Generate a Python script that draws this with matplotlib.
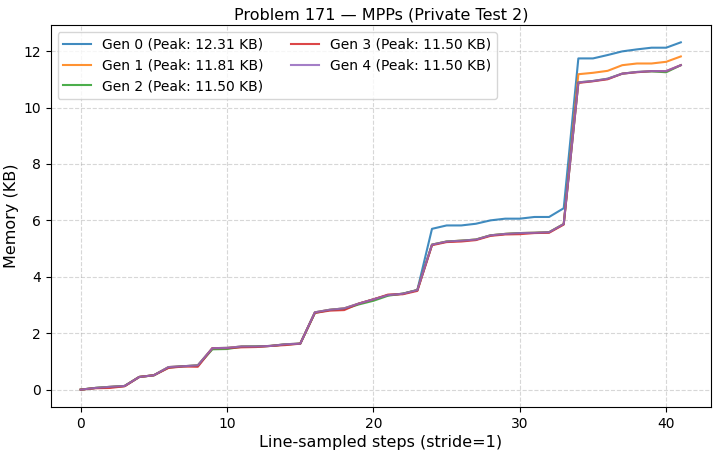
import matplotlib
matplotlib.use("Agg")
import matplotlib.pyplot as plt

steps = list(range(42))

gen0 = [0.00, 0.06, 0.10, 0.13, 0.45, 0.51, 0.80, 0.83, 0.86, 1.47, 1.48, 1.53, 1.53, 1.55, 1.61, 1.63,
        2.74, 2.83, 2.88, 3.05, 3.20, 3.35, 3.40, 3.53,
        5.70, 5.82, 5.82, 5.88, 6.00, 6.06, 6.06, 6.12, 6.12, 6.43,
        11.74, 11.74, 11.86, 11.99, 12.06, 12.12, 12.12, 12.31]
gen1 = [0.00, 0.06, 0.10, 0.13, 0.45, 0.51, 0.80, 0.83, 0.86, 1.47, 1.48, 1.53, 1.53, 1.55, 1.61, 1.63,
        2.74, 2.83, 2.88, 3.05, 3.20, 3.35, 3.40, 3.53,
        5.14, 5.25, 5.28, 5.32, 5.47, 5.52, 5.55, 5.56, 5.58, 5.87,
        11.18, 11.23, 11.30, 11.50, 11.56, 11.56, 11.62, 11.81]
gen2 = [0.00, 0.06, 0.09, 0.13, 0.45, 0.51, 0.78, 0.83, 0.85, 1.43, 1.44, 1.52, 1.53, 1.55, 1.60, 1.63,
        2.72, 2.82, 2.86, 3.02, 3.15, 3.33, 3.40, 3.53,
        5.14, 5.25, 5.28, 5.32, 5.47, 5.52, 5.55, 5.56, 5.58, 5.87,
        10.89, 10.94, 11.02, 11.20, 11.26, 11.28, 11.25, 11.50]
gen3 = [0.00, 0.05, 0.06, 0.12, 0.45, 0.51, 0.77, 0.82, 0.81, 1.47, 1.47, 1.50, 1.51, 1.55, 1.58, 1.63,
        2.72, 2.80, 2.82, 3.05, 3.20, 3.37, 3.38, 3.50,
        5.12, 5.23, 5.25, 5.30, 5.45, 5.50, 5.51, 5.55, 5.56, 5.85,
        10.87, 10.93, 11.00, 11.20, 11.25, 11.29, 11.29, 11.50]
gen4 = [0.00, 0.06, 0.10, 0.13, 0.45, 0.51, 0.80, 0.83, 0.86, 1.47, 1.48, 1.53, 1.53, 1.55, 1.61, 1.63,
        2.74, 2.83, 2.88, 3.05, 3.20, 3.35, 3.40, 3.53,
        5.14, 5.25, 5.28, 5.32, 5.47, 5.52, 5.55, 5.56, 5.58, 5.87,
        10.89, 10.94, 11.02, 11.20, 11.26, 11.29, 11.29, 11.50]

series = [gen0, gen1, gen2, gen3, gen4]
labels = ["Gen 0 (Peak: 12.31 KB)", "Gen 1 (Peak: 11.81 KB)", "Gen 2 (Peak: 11.50 KB)",
          "Gen 3 (Peak: 11.50 KB)", "Gen 4 (Peak: 11.50 KB)"]

fig, ax = plt.subplots(figsize=(7.18, 4.54), dpi=100)
for ys, lab in zip(series, labels):
    ax.plot(steps, ys, label=lab, linewidth=1.5, alpha=0.85)

ax.set_title("Problem 171 \u2014 MPPs (Private Test 2)", fontsize=11.5, pad=4)
ax.set_xlabel("Line-sampled steps (stride=1)", fontsize=11.5, labelpad=3)
ax.set_ylabel("Memory (KB)", fontsize=11.5, labelpad=3)
ax.tick_params(labelsize=10)
ax.grid(True, linestyle="--", alpha=0.5)
ax.legend(ncol=2, fontsize=10, loc="upper left")
fig.subplots_adjust(left=0.0706, right=0.99, top=0.945, bottom=0.1035)
fig.savefig("out.png", dpi=100)
